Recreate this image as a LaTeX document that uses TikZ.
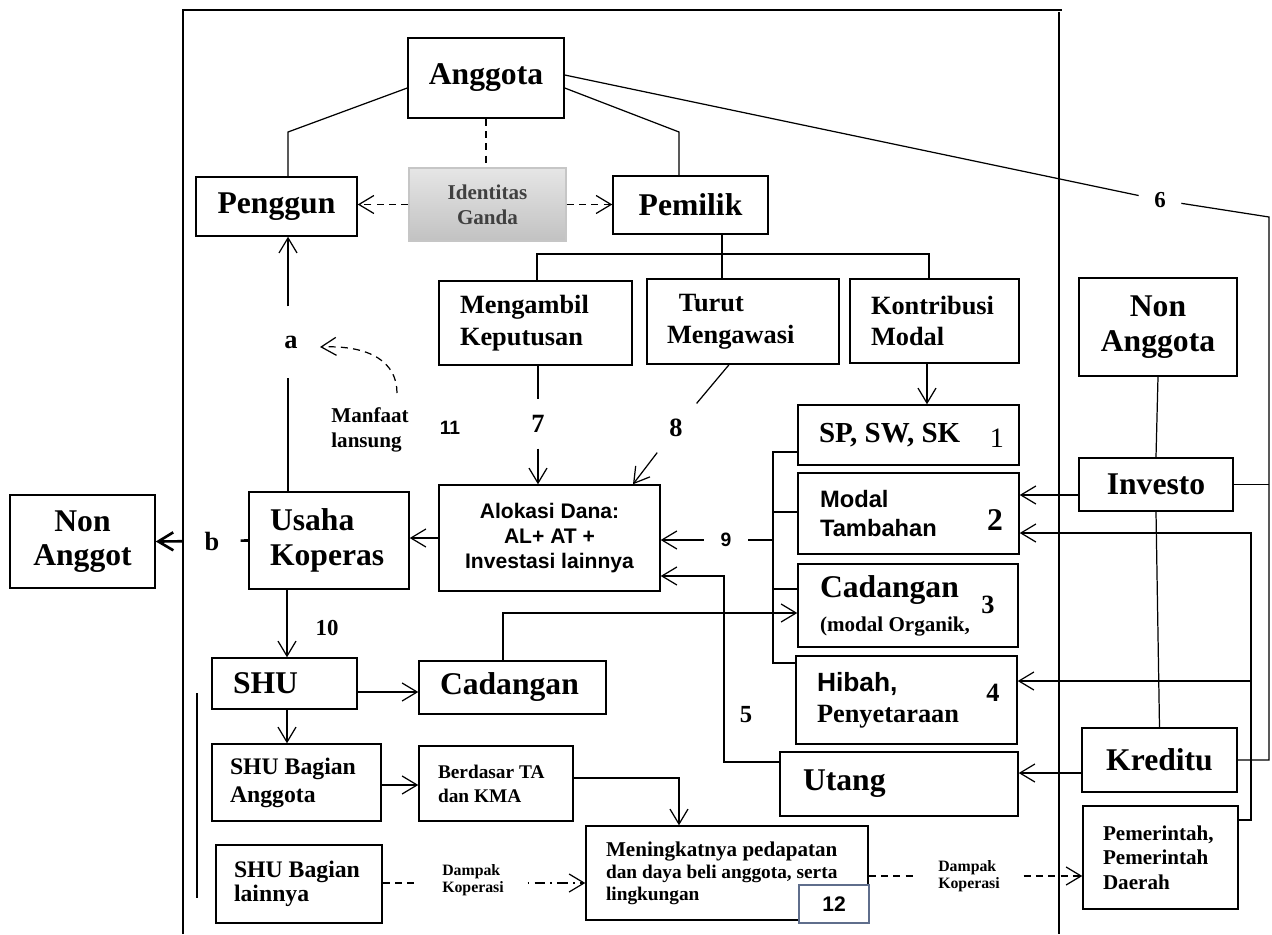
\documentclass[tikz,border=0pt]{standalone}
\usepackage{fontspec}
\setmainfont{Liberation Serif}
\newfontfamily\arialfont{Liberation Sans}
\usetikzlibrary{arrows.meta}
\definecolor{slate}{RGB}{95,110,140}

\begin{document}
\begin{tikzpicture}[x=0.02cm,y=-0.02cm,line width=0.7pt,
  >={Straight Barb[length=0.3cm,width=0.36cm]},
  box/.style={draw,line width=0.85pt,inner sep=0pt},
  lbox/.style={box,align=flush left},
  big/.style={font=\fontsize{18}{19.5}\selectfont\bfseries},
  mid/.style={font=\fontsize{15}{18}\selectfont\bfseries},
  lbl/.style={inner sep=0pt,minimum size=0.96cm},
  dashline/.style={dash pattern=on 4pt off 3pt}]

\useasboundingbox (0,0) rectangle (1272,934);

% frame
\draw (183,934) -- (183,10) -- (1062,10);
\draw (1059,12) -- (1059,934);
\draw (197,693) -- (197,898);

% top
\node[box,big,minimum width=3.12cm,minimum height=1.6cm] (anggota) at (486,78) {Anggota};
\node[box,big,minimum width=3.22cm,minimum height=1.18cm] (penggun) at (276.5,206.5) {Penggun};
\node[box,draw=gray!45,top color=gray!20,bottom color=gray!48,text=black!75,font=\fontsize{12}{14}\selectfont\bfseries,align=center,minimum width=3.14cm,minimum height=1.46cm] (identitas) at (487.5,204.5) {Identitas\\Ganda};
\node[box,big,minimum width=3.1cm,minimum height=1.16cm] (pemilik) at (690.5,205) {Pemilik};

\node[lbox,mid,text width=3.02cm,inner xsep=0.42cm,minimum height=1.68cm] (mengambil) at (535.5,323) {Mengambil\\Keputusan};
\node[lbox,mid,text width=3.04cm,inner xsep=0.4cm,minimum height=1.7cm] (turut) at (743,321.5) {\hspace{0.45em}Turut\\Mengawasi};
\node[lbox,mid,text width=2.54cm,inner xsep=0.42cm,minimum height=1.68cm] (kontribusi) at (934.5,321) {Kontribusi\\Modal};
\node[box,big,align=center,minimum width=3.16cm,minimum height=1.96cm] (nonang) at (1158,327) {Non\\Anggota};

% modal
\node[lbox,font=\fontsize{16.5}{19}\selectfont\bfseries,text width=3.58cm,inner xsep=0.42cm,minimum height=1.2cm] (sp) at (908.5,435) {SP, SW, SK};
\node[lbox,font=\arialfont\fontsize{13.5}{17}\selectfont\bfseries,text width=3.54cm,inner xsep=0.44cm,minimum height=1.62cm] (modal) at (908.5,513.5) {Modal\\Tambahan};
\node[lbox,big,text width=3.52cm,inner xsep=0.44cm,minimum height=1.66cm] (cad3) at (908,605.5) {Cadangan\\{\fontsize{12}{14}\selectfont(modal Organik,}};
\node[lbox,font=\fontsize{15}{17.6}\selectfont\bfseries,text width=3.58cm,inner xsep=0.42cm,minimum height=1.76cm] (hibah) at (906.5,700) {{\arialfont Hibah,}\\Penyetaraan};
\node[lbox,big,text width=3.84cm,inner xsep=0.46cm,minimum height=1.28cm] (utang) at (899,784) {Utang};
\node[font=\fontsize{16}{16}\selectfont] (n1) at (997,438) {1};
\node[font=\fontsize{18}{18}\selectfont\bfseries] (n2) at (995,520) {2};
\node[font=\fontsize{15}{15}\selectfont\bfseries] (n3) at (988,605) {3};
\node[font=\fontsize{15}{15}\selectfont\bfseries] (n4) at (993,693) {4};

% right side
\node[box,big,minimum width=3.08cm,minimum height=1.06cm] (investo) at (1156,484.5) {Investo};
\node[box,big,minimum width=3.1cm,minimum height=1.28cm] (kreditu) at (1159.5,760) {Kreditu};
\node[lbox,font=\fontsize{12}{14}\selectfont\bfseries,text width=2.3cm,inner xsep=0.4cm,minimum height=2.06cm] (pemerintah) at (1160.5,857.5) {Pemerintah,\\Pemerintah\\Daerah};

% middle and left
\node[box,font=\arialfont\fontsize{12}{14}\selectfont\bfseries,align=center,minimum width=4.42cm,minimum height=2.12cm] (alokasi) at (549.5,538) {Alokasi Dana:\\AL+ AT +\\Investasi lainnya};
\node[lbox,big,text width=2.36cm,inner xsep=0.42cm,minimum height=1.94cm] (usaha) at (329,540.5) {Usaha\\Koperas};
\node[box,big,align=center,minimum width=2.9cm,minimum height=1.86cm] (nonagt) at (82.5,541.5) {Non\\Anggot};

% shu
\node[lbox,big,text width=2.06cm,inner xsep=0.42cm,minimum height=1.02cm] (shu) at (284.5,683.5) {SHU};
\node[lbox,big,text width=2.9cm,inner xsep=0.42cm,minimum height=1.06cm] (cad2) at (512.5,687.5) {Cadangan};
\node[lbox,font=\fontsize{13.5}{16}\selectfont\bfseries,text width=2.66cm,inner xsep=0.36cm,minimum height=1.54cm] (shuba) at (296.5,782.5) {SHU Bagian\\Anggota};
\node[lbox,font=\fontsize{11}{13.6}\selectfont\bfseries,text width=2.32cm,inner xsep=0.38cm,minimum height=1.5cm] (berdasar) at (496,783.5) {Berdasar TA\\dan KMA};
\node[lbox,font=\fontsize{13.5}{14}\selectfont\bfseries,text width=2.6cm,inner xsep=0.36cm,minimum height=1.56cm] (shubl) at (299,884) {SHU Bagian\\lainnya};
\node[lbox,font=\fontsize{11}{12.5}\selectfont\bfseries,text width=4.84cm,inner xsep=0.4cm,minimum height=1.88cm] (mening) at (727,873) {{\fontsize{12}{12.5}\selectfont Meningkatnya pedapatan}\\dan daya beli anggota, serta\\lingkungan};
\node[box,draw=slate,fill=white,font=\arialfont\fontsize{12}{14}\selectfont\bfseries,minimum width=1.4cm,minimum height=0.76cm] (twelve) at (834,904) {12};

% labels
\node[font=\fontsize{13}{13}\selectfont\bfseries,inner sep=0.3cm] (six) at (1160,200) {6};
\node[lbl,font=\fontsize{15}{15}\selectfont\bfseries] (seven) at (538,424) {7};
\node[lbl,font=\fontsize{15}{15}\selectfont\bfseries] (eight) at (676,428) {8};
\node[inner sep=0pt,minimum width=0.86cm,font=\arialfont\fontsize{11}{11}\selectfont\bfseries] (nine) at (726,540) {9};
\node[font=\fontsize{13}{13}\selectfont\bfseries] (ten) at (327,628) {10};
\node[font=\arialfont\fontsize{11}{11}\selectfont\bfseries] (eleven) at (450,428) {11};
\node[font=\fontsize{14}{14}\selectfont\bfseries] (five) at (746,715) {5};
\node[inner sep=0pt,minimum height=1.4cm,font=\fontsize{15}{15}\selectfont\bfseries] (a) at (291,342) {a};
\node[inner sep=0pt,minimum width=1.12cm,font=\fontsize{15}{15}\selectfont\bfseries] (b) at (212,541) {b};
\node[font=\fontsize{12}{14}\selectfont\bfseries,align=left] (manfaat) at (370,430) {Manfaat\\lansung};
\node[font=\fontsize{9}{10}\selectfont\bfseries,align=left,minimum width=2.16cm] (dampakA) at (473,880) {Dampak\\Koperasi};
\node[font=\fontsize{9}{10}\selectfont\bfseries,align=left,minimum width=2.16cm] (dampakB) at (969,876) {Dampak\\Koperasi};
\coordinate (mfstart) at (397,393);
\coordinate (mftip) at (320,347);

% connectors
\draw (anggota.west |- 0,88) -- (288,132) -- (288,0 |- penggun.north);
\draw (anggota.east |- 0,88) -- (679,132) -- (679,0 |- pemilik.north);
\draw (anggota.east |- 0,75) -- (six);
\draw (six) -- (1269,217) -- (1269,0 |- kreditu.east) -- (kreditu.east);
\draw (investo.east) -- (1269,0 |- investo.east);
\draw[dashline] (anggota.south) -- (anggota.south |- identitas.north);
\draw[dashline,->] (identitas.west) -- (identitas.west -| penggun.east);
\draw[dashline,->] (identitas.east) -- (identitas.east -| pemilik.west);

\draw (722,0 |- pemilik.south) -- (722,254);
\draw (537,0 |- mengambil.north) -- (537,254) -- (929,254) -- (929,0 |- kontribusi.north);
\draw (722,254) -- (722,0 |- turut.north);
\draw[->] (927,0 |- kontribusi.south) -- (927,0 |- sp.north);
\draw (538,0 |- mengambil.south) -- (seven);
\draw[->] (seven) -- (538,0 |- alokasi.north);
\draw (729,0 |- turut.south) -- (eight);
\draw[->] (eight) -- (633,0 |- alokasi.north);

\draw[->] (alokasi.west) -- (alokasi.west -| usaha.east);
\draw[->] (nine.west) -- (nine.west -| alokasi.east);
\draw (nine.east) -- (773,540);
\draw[line width=1.5pt] (sp.west |- 0,452) -| (773,663) -- (hibah.west |- 0,663);
\draw[line width=1.5pt] (773,512) -- (modal.west |- 0,512);
\draw[line width=1.5pt] (773,589) -- (cad3.west |- 0,589);
\draw[->] (utang.west |- 0,762) -| (724,576) -- (alokasi.east |- 0,576);
\draw[->] (503,0 |- cad2.north) |- (cad3.west |- 0,613);

\draw[line width=1.5pt] (usaha.west) -- (b);
\draw[line width=1.5pt,->] (b) -- (nonagt.east);
\draw (288,0 |- usaha.north) -- (288,0 |- a.south);
\draw[->] (288,0 |- a.north) -- (288,0 |- penggun.south);
\draw[dashline,->] (mfstart) .. controls (397,362) and (370,345) .. (mftip);

\draw[->] (287,0 |- usaha.south) -- (287,0 |- shu.north);
\draw[->] (shu.east |- 0,692) -- (cad2.west |- 0,692);
\draw[->] (287,0 |- shu.south) -- (287,0 |- shuba.north);
\draw[->] (shuba.east |- 0,785) -- (berdasar.west |- 0,785);
\draw[->] (berdasar.east |- 0,778) -| (679,0 |- mening.north);
\draw[dashline] (shubl.east |- 0,883) -- (dampakA.west |- 0,883);
\draw[dash pattern=on 1pt off 3pt on 6pt off 3pt,->] (dampakA.east |- 0,883) -- (mening.west |- 0,883);
\draw[dashline] (mening.east |- 0,876) -- (dampakB.west |- 0,876);
\draw[dashline,->] (dampakB.east |- 0,876) -- (pemerintah.west |- 0,876);

\draw (nonang.south) -- (investo.north);
\draw (investo.south) -- (kreditu.north);
\draw[->] (investo.west |- 0,495) -- (modal.east |- 0,495);
\draw[->] (kreditu.west |- 0,773) -- (utang.east |- 0,773);
\draw[->] (pemerintah.east |- 0,820) -| (1251,533) -- (modal.east |- 0,533);
\draw[->] (1251,681) -- (hibah.east |- 0,681);

\end{tikzpicture}
\end{document}
